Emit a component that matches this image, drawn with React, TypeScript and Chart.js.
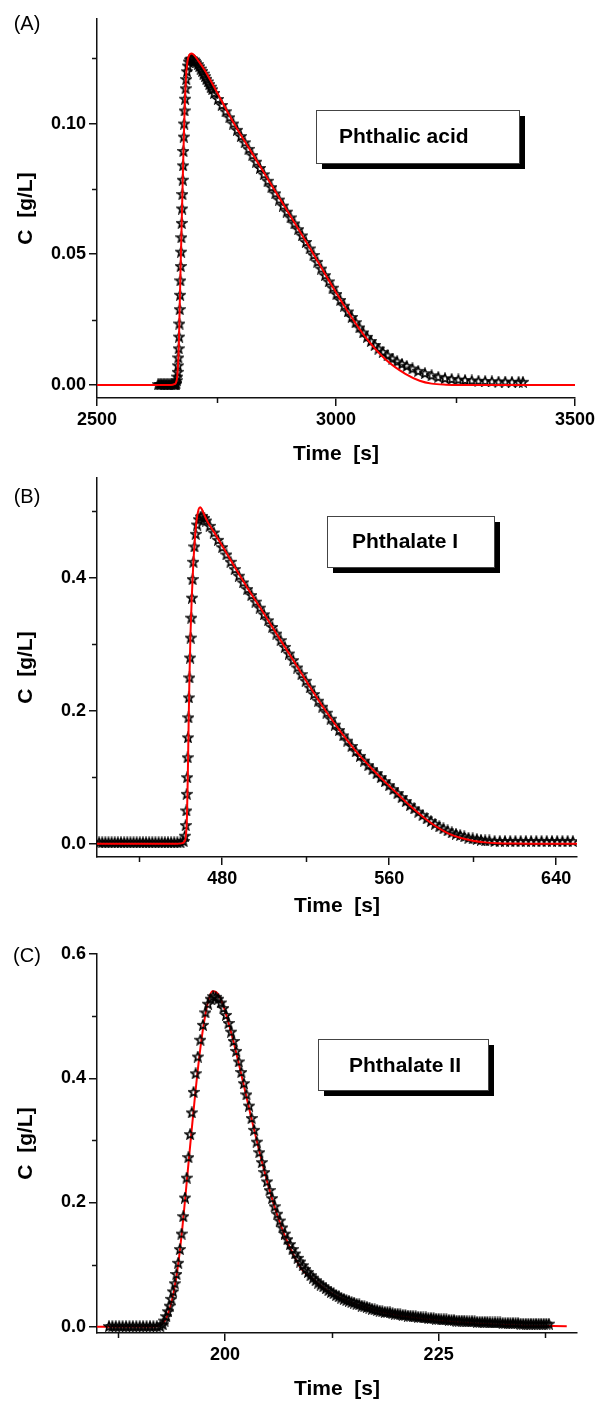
import React, { useEffect, useRef } from "react";
import { Chart, registerables } from "chart.js";

Chart.register(...registerables);

const FONT = "'Liberation Sans', Arial, Helvetica, sans-serif";

// ---------- Panel A : Phthalic acid ----------
const timeA = [2628, 2631, 2634, 2637, 2640, 2643, 2646, 2649, 2652, 2655, 2658, 2661, 2663, 2665,
  2666, 2667, 2668, 2668.8, 2669.5, 2670.2, 2671, 2671.7, 2672.4, 2673.1, 2673.8, 2674.5, 2675.2, 2675.9, 2676.6, 2677.3,
  2678, 2678.7, 2679.4, 2680.1, 2680.8, 2681.6, 2682.4, 2683.3, 2684.3, 2685.4, 2686.7, 2688.2, 2690, 2692, 2694, 2696.5,
  2699, 2702, 2705, 2708, 2711, 2714, 2717, 2720, 2723, 2726, 2729, 2732, 2735, 2738, 2741,
  2745, 2753, 2761, 2769, 2777, 2785, 2793, 2801, 2809, 2817, 2825, 2833, 2841, 2849, 2857, 2865, 2873, 2881, 2889, 2897,
  2905, 2913, 2921, 2929, 2937, 2945, 2953, 2961, 2969, 2977, 2985, 2993, 3001, 3009, 3017, 3025, 3033, 3041, 3049, 3057,
  3065, 3073, 3081, 3089, 3098, 3108, 3118, 3128, 3138, 3148, 3160, 3172, 3186, 3200, 3214, 3228, 3242, 3256, 3270, 3284,
  3298, 3312, 3326, 3340, 3354, 3368, 3382, 3391];
const concA = [0.0003, 0.0003, 0.0003, 0.0003, 0.0003, 0.0003, 0.0003, 0.0003, 0.0003, 0.0003, 0.0003, 0.0003, 0.0003, 0.0003,
  0.0008, 0.0018, 0.0032, 0.005, 0.0075, 0.0105, 0.014, 0.0185, 0.0235, 0.029, 0.0345, 0.04, 0.0455, 0.051, 0.0565, 0.062,
  0.0675, 0.073, 0.0785, 0.084, 0.0895, 0.095, 0.1, 0.105, 0.1095, 0.1135, 0.117, 0.12, 0.1222, 0.1237, 0.1245, 0.1248,
  0.1248, 0.1245, 0.124, 0.1234, 0.1227, 0.1219, 0.121, 0.1201, 0.1191, 0.1181, 0.1171, 0.1161, 0.1151, 0.1141, 0.1131,
  0.1117, 0.1094, 0.1071, 0.1047, 0.1024, 0.1, 0.0976, 0.0952, 0.0928, 0.0903, 0.0879, 0.0854, 0.083, 0.0806, 0.0781, 0.0757, 0.0733, 0.0709, 0.0686, 0.0663,
  0.0641, 0.0618, 0.0596, 0.0572, 0.0547, 0.0522, 0.0497, 0.0471, 0.0445, 0.042, 0.0396, 0.0372, 0.0348, 0.0325, 0.0303, 0.0281, 0.026, 0.024, 0.022, 0.0201,
  0.0184, 0.0168, 0.0153, 0.0139, 0.0126, 0.0113, 0.0101, 0.009, 0.0081, 0.0073, 0.0063, 0.0054, 0.0045, 0.0037, 0.0031, 0.0026, 0.0023, 0.0021, 0.0019, 0.0017,
  0.0016, 0.0015, 0.0014, 0.0013, 0.0013, 0.0012, 0.0012, 0.0012];
const fitTimeA = [2500, 2600, 2655, 2662, 2665, 2668, 2671, 2674, 2677, 2680, 2683, 2686, 2689, 2693, 2698, 2703, 2712, 2725,
  2745, 2785, 2825, 2865, 2905, 2945, 2985, 3025, 3065, 3105, 3145, 3175, 3200, 3230, 3260, 3350, 3500];
const fitA = [0, 0, 0, 0.0003, 0.0008, 0.0035, 0.014, 0.038, 0.0605, 0.083, 0.1035, 0.117, 0.1235, 0.1262, 0.1268, 0.1262, 0.124, 0.1205,
  0.114, 0.1005, 0.0885, 0.0765, 0.0645, 0.0525, 0.04, 0.028, 0.0175, 0.0095, 0.0042, 0.0016, 0.0005, 0.0001, 0, 0, 0];
const xTicksA = [2500, 3000, 3500];
const xLabelsA = ["2500", "3000", "3500"];
const xMinorA = [2750, 3250];
const yTicksA = [0, 0.05, 0.1];
const yLabelsA = ["0.00", "0.05", "0.10"];
const yMinorA = [0.025, 0.075, 0.125];

// ---------- Panel B : Phthalate I ----------
const timeB = [421, 422.5, 424, 425.5, 427, 428.5, 430, 431.5, 433, 434.5, 436, 437.5, 439, 440.5, 442, 443.5, 445, 446.5, 448, 449.5,
  451, 452.5, 454, 455.5, 457, 458.5, 460,
  461.5, 462.1, 462.5, 462.8, 463.0, 463.2, 463.4, 463.6, 463.8, 464.0, 464.3, 464.6, 464.9, 465.2, 465.5, 465.8, 466.2, 466.7,
  467.3, 468.0, 468.8, 469.6, 470.5, 471.4, 472.3,
  474, 476, 478, 480, 482, 484, 486, 488, 490, 492, 494, 496, 498, 500, 502, 504, 506, 508, 510, 512, 514, 516, 518, 520, 522,
  524, 526, 528, 530, 532, 534, 536, 538, 540, 542, 544, 546, 548, 550, 552, 554, 556, 558, 560, 562, 564, 566, 568, 570, 572,
  574, 576, 578, 580, 582, 584, 586, 588, 590, 592, 594, 596, 598, 600, 602, 604, 606, 608,
  610.5, 613, 615.5, 618, 620.5, 623, 625.5, 628, 630.5, 633, 635.5, 638, 640.5, 643, 645.5, 648];
const concB = [0.002, 0.002, 0.002, 0.002, 0.002, 0.002, 0.002, 0.002, 0.002, 0.002, 0.002, 0.002, 0.002, 0.002, 0.002, 0.002, 0.002, 0.002, 0.002, 0.002,
  0.002, 0.002, 0.002, 0.002, 0.002, 0.002, 0.002,
  0.004, 0.012, 0.028, 0.05, 0.075, 0.1, 0.13, 0.16, 0.19, 0.22, 0.25, 0.28, 0.31, 0.34, 0.37, 0.398, 0.424, 0.447,
  0.466, 0.48, 0.488, 0.492, 0.493, 0.49, 0.486,
  0.478, 0.468, 0.457, 0.446, 0.435, 0.424, 0.413, 0.403, 0.393, 0.383, 0.374, 0.364, 0.355, 0.345, 0.336, 0.326, 0.316, 0.306, 0.296, 0.286, 0.276, 0.265, 0.255, 0.245, 0.235,
  0.225, 0.215, 0.206, 0.197, 0.188, 0.179, 0.171, 0.163, 0.155, 0.147, 0.139, 0.132, 0.125, 0.118, 0.112, 0.106, 0.1, 0.094, 0.088, 0.082, 0.076, 0.07, 0.064, 0.058, 0.053,
  0.048, 0.043, 0.038, 0.034, 0.03, 0.026, 0.023, 0.02, 0.017, 0.015, 0.013, 0.011, 0.009, 0.008, 0.007, 0.006, 0.005, 0.005,
  0.004, 0.004, 0.004, 0.004, 0.004, 0.004, 0.004, 0.004, 0.004, 0.004, 0.004, 0.004, 0.004, 0.004, 0.004, 0.004];
const fitTimeB = [420, 458, 460.5, 461.8, 462.6, 463.1, 463.5, 463.9, 464.3, 464.8, 465.4, 466.1, 466.9, 467.8, 468.7, 469.5, 470.4, 471.5,
  473, 476, 480, 486, 492, 498, 504, 510, 516, 522, 528, 534, 540, 546, 552, 558, 564, 570, 576, 582, 588, 594, 600, 606, 612, 620, 630, 650];
const fitB = [0, 0, 0.0005, 0.003, 0.012, 0.04, 0.1, 0.18, 0.25, 0.315, 0.37, 0.418, 0.458, 0.488, 0.503, 0.506, 0.502, 0.494,
  0.484, 0.469, 0.448, 0.416, 0.385, 0.356, 0.326, 0.296, 0.266, 0.236, 0.207, 0.18, 0.155, 0.132, 0.112, 0.093, 0.075, 0.057, 0.041, 0.027, 0.016, 0.009,
  0.0045, 0.002, 0.0008, 0.0002, 0, 0];
const xTicksB = [480, 560, 640];
const xLabelsB = ["480", "560", "640"];
const xMinorB = [440, 520, 600];
const yTicksB = [0, 0.2, 0.4];
const yLabelsB = ["0.0", "0.2", "0.4"];
const yMinorB = [0.1, 0.3, 0.5];

// ---------- Panel C : Phthalate II ----------
const timeC = [186.4, 186.8, 187.2, 187.6, 188.0, 188.4, 188.8, 189.2, 189.6, 190.0, 190.4, 190.8, 191.2, 191.6, 192.0, 192.4,
  192.7, 192.9, 193.1, 193.3, 193.5, 193.7, 193.9, 194.1, 194.3, 194.5, 194.7, 194.9, 195.1, 195.3, 195.5, 195.7, 195.9, 196.1,
  196.3, 196.55, 196.8, 197.1, 197.4, 197.7, 198.0, 198.3, 198.6,
  198.9, 199.2, 199.5, 199.8, 200.1, 200.4, 200.7, 201.0, 201.3, 201.6, 201.9, 202.2, 202.5, 202.8,
  203.1, 203.4, 203.7, 204.0, 204.3, 204.6, 204.9, 205.2, 205.5, 205.8, 206.1, 206.4, 206.7, 207.0, 207.3, 207.6, 207.9, 208.2,
  208.5, 208.8, 209.1, 209.4, 209.7, 210.0, 210.3, 210.6, 210.9, 211.2, 211.5, 211.8, 212.1, 212.4, 212.7, 213.0, 213.3, 213.6,
  213.9, 214.2, 214.5, 214.8, 215.1, 215.4, 215.7, 216.0, 216.3, 216.6, 216.9, 217.2, 217.5, 217.8, 218.1, 218.4, 218.7, 219.0,
  219.3, 219.6, 219.9, 220.2, 220.5, 220.8, 221.1, 221.4, 221.7, 222.0, 222.3, 222.6, 222.9, 223.2, 223.5, 223.8, 224.1, 224.4,
  224.7, 225.0, 225.3, 225.6, 225.9, 226.2, 226.5, 226.8, 227.1, 227.4, 227.7, 228.0, 228.3, 228.6, 228.9, 229.2, 229.5, 229.8,
  230.1, 230.4, 230.7, 231.0, 231.3, 231.6, 231.9, 232.2, 232.5, 232.8, 233.1, 233.4, 233.7, 234.0, 234.3, 234.6, 234.9, 235.2,
  235.5, 235.8, 236.1, 236.4, 236.7, 237.0, 237.3, 237.6, 237.9];
const concC = [0.001, 0.001, 0.001, 0.001, 0.001, 0.001, 0.001, 0.001, 0.001, 0.001, 0.001, 0.001, 0.001, 0.001, 0.001, 0.001,
  0.004, 0.01, 0.017, 0.025, 0.034, 0.045, 0.057, 0.07, 0.085, 0.103, 0.125, 0.15, 0.178, 0.208, 0.24, 0.273, 0.31, 0.345,
  0.378, 0.408, 0.435, 0.462, 0.486, 0.506, 0.52, 0.528, 0.532,
  0.531, 0.528, 0.522, 0.513, 0.502, 0.489, 0.475, 0.46, 0.444, 0.427, 0.41, 0.392, 0.374, 0.356,
  0.336, 0.317, 0.298, 0.281, 0.265, 0.249, 0.234, 0.22, 0.207, 0.194, 0.182, 0.171, 0.16, 0.15, 0.141, 0.133, 0.125, 0.118,
  0.111, 0.105, 0.099, 0.093, 0.088, 0.083, 0.079, 0.075, 0.071, 0.068, 0.065, 0.062, 0.059, 0.056, 0.054, 0.051, 0.049, 0.047,
  0.045, 0.043, 0.042, 0.04, 0.039, 0.037, 0.036, 0.034, 0.033, 0.032, 0.031, 0.029, 0.028, 0.027, 0.026, 0.025, 0.024, 0.024,
  0.023, 0.022, 0.021, 0.021, 0.02, 0.019, 0.019, 0.018, 0.018, 0.017, 0.017, 0.016, 0.016, 0.015, 0.015, 0.014, 0.014, 0.014,
  0.013, 0.013, 0.012, 0.012, 0.012, 0.011, 0.011, 0.011, 0.01, 0.01, 0.01, 0.01, 0.009, 0.009, 0.009, 0.009, 0.008, 0.008,
  0.008, 0.008, 0.008, 0.007, 0.007, 0.007, 0.007, 0.007, 0.006, 0.006, 0.006, 0.006, 0.006, 0.006, 0.006, 0.005, 0.005, 0.005,
  0.005, 0.005, 0.005, 0.005, 0.005, 0.005, 0.005, 0.005, 0.005];
const fitTimeC = [185, 190, 191.8, 192.5, 193.0, 193.5, 194.0, 194.5, 195.0, 195.5, 196.0, 196.5, 197.0, 197.5, 198.0, 198.5,
  199.0, 199.5, 200.0, 200.5, 201.0, 202.0, 203.0, 204.0, 205.0, 206.0, 207.0, 208.0, 209.0, 210.0, 212.0, 214.0, 216.0, 218.0,
  220.0, 223.0, 226.0, 230.0, 235.0, 240.0];
const fitC = [0, 0, 0.0005, 0.003, 0.011, 0.028, 0.057, 0.1, 0.16, 0.232, 0.305, 0.375, 0.437, 0.487, 0.523, 0.54,
  0.538, 0.527, 0.508, 0.484, 0.458, 0.4, 0.34, 0.283, 0.23, 0.184, 0.146, 0.116, 0.092, 0.08, 0.058, 0.043, 0.033, 0.025,
  0.019, 0.013, 0.009, 0.005, 0.002, 0.001];
const xTicksC = [200, 225];
const xLabelsC = ["200", "225"];
const xMinorC = [187.5, 212.5, 237.5];
const yTicksC = [0, 0.2, 0.4, 0.6];
const yLabelsC = ["0.0", "0.2", "0.4", "0.6"];
const yMinorC = [0.1, 0.3, 0.5];

const panelTags = ["(A)", "(B)", "(C)"];
const compoundNames = ["Phthalic acid", "Phthalate I", "Phthalate II"];
const xTitle = "Time  [s]";
const yTitle = "C  [g/L]";

type Spec = {
  tag: string; name: string;
  t: number[]; c: number[]; ft: number[]; fc: number[];
  xMin: number; xMax: number; yMin: number; yMax: number;
  xTicks: number[]; xLabels: string[]; xMinor: number[];
  yTicks: number[]; yLabels: string[]; yMinor: number[];
  top: number; height: number; padTop: number; padRight: number; xH: number; xTitlePad: number;
  tagY: number; box: [number, number, number, number]; textX: number; textY: number;
  fitOnTop: boolean;
};

const specs: Spec[] = [
  {
    tag: panelTags[0], name: compoundNames[0], t: timeA, c: concA, ft: fitTimeA, fc: fitA,
    xMin: 2500, xMax: 3500, yMin: -0.005, yMax: 0.14,
    xTicks: xTicksA, xLabels: xLabelsA, xMinor: xMinorA, yTicks: yTicksA, yLabels: yLabelsA, yMinor: yMinorA,
    top: 0, height: 470, padTop: 19, padRight: 25, xH: 72, xTitlePad: 3.4,
    tagY: 24, box: [316, 110, 203, 53], textX: 339, textY: 137, fitOnTop: true,
  },
  {
    tag: panelTags[1], name: compoundNames[1], t: timeB, c: concB, ft: fitTimeB, fc: fitB,
    xMin: 420, xMax: 650, yMin: -0.02, yMax: 0.55,
    xTicks: xTicksB, xLabels: xLabelsB, xMinor: xMinorB, yTicks: yTicksB, yLabels: yLabelsB, yMinor: yMinorB,
    top: 470, height: 465, padTop: 8, padRight: 23, xH: 78, xTitlePad: 16.4,
    tagY: 27, box: [327, 46, 167, 51], textX: 352, textY: 72, fitOnTop: true,
  },
  {
    tag: panelTags[2], name: compoundNames[2], t: timeC, c: concC, ft: fitTimeC, fc: fitC,
    xMin: 185, xMax: 241.2, yMin: -0.01, yMax: 0.6,
    xTicks: xTicksC, xLabels: xLabelsC, xMinor: xMinorC, yTicks: yTicksC, yLabels: yLabelsC, yMinor: yMinorC,
    top: 935, height: 467, padTop: 19, padRight: 23, xH: 69, xTitlePad: 0,
    tagY: 21, box: [318, 104, 170, 51], textX: 349, textY: 131, fitOnTop: false,
  },
];

function makeStar(): HTMLCanvasElement {
  const cv = document.createElement("canvas");
  cv.width = 12; cv.height = 12;
  const g = cv.getContext("2d")!;
  g.beginPath();
  for (let i = 0; i < 10; i++) {
    const r = i % 2 === 0 ? 4.9 : 2.1;
    const a = -Math.PI / 2 + (i * Math.PI) / 5;
    const x = 6 + r * Math.cos(a);
    const y = 6.5 + r * Math.sin(a);
    if (i === 0) g.moveTo(x, y); else g.lineTo(x, y);
  }
  g.closePath();
  g.strokeStyle = "#000";
  g.lineWidth = 1.6;
  g.lineJoin = "miter";
  g.stroke();
  return cv;
}

function Panel({ spec }: { spec: Spec }) {
  const ref = useRef<HTMLCanvasElement | null>(null);
  useEffect(() => {
    const canvas = ref.current!;
    const star = makeStar();
    const axisColor = "#111";
    const decor = {
      id: "decor",
      afterDraw(chart: any) {
        const ctx = chart.ctx as CanvasRenderingContext2D;
        const xs = chart.scales.x;
        const ys = chart.scales.y;
        ctx.save();
        ctx.strokeStyle = axisColor;
        ctx.lineWidth = 1.5;
        spec.xMinor.forEach((v) => {
          const px = Math.round(xs.getPixelForValue(v)) + 0.5;
          ctx.beginPath();
          ctx.moveTo(px, xs.top);
          ctx.lineTo(px, xs.top + 5);
          ctx.stroke();
        });
        spec.yMinor.forEach((v) => {
          const py = Math.round(ys.getPixelForValue(v)) + 0.5;
          ctx.beginPath();
          ctx.moveTo(ys.right, py);
          ctx.lineTo(ys.right - 5, py);
          ctx.stroke();
        });
        // panel tag
        ctx.fillStyle = "#000";
        ctx.font = `20px ${FONT}`;
        ctx.textAlign = "center";
        ctx.textBaseline = "middle";
        ctx.fillText(spec.tag, 27, spec.tagY);
        // legend box with shadow
        const [bx, by, bw, bh] = spec.box;
        ctx.fillStyle = "#000";
        ctx.fillRect(bx + 6, by + 6, bw, bh);
        ctx.fillStyle = "#fff";
        ctx.fillRect(bx, by, bw, bh);
        ctx.strokeStyle = "#444";
        ctx.lineWidth = 1;
        ctx.strokeRect(bx + 0.5, by + 0.5, bw, bh);
        ctx.fillStyle = "#000";
        ctx.font = `bold 21px ${FONT}`;
        ctx.textAlign = "left";
        ctx.textBaseline = "middle";
        ctx.fillText(spec.name, spec.textX, spec.textY);
        ctx.restore();
      },
    };

    const n = Math.min(spec.t.length, spec.c.length);
    const pts = [] as { x: number; y: number }[];
    for (let i = 0; i < n; i++) pts.push({ x: spec.t[i], y: spec.c[i] });
    const m = Math.min(spec.ft.length, spec.fc.length);
    const fpts = [] as { x: number; y: number }[];
    for (let i = 0; i < m; i++) fpts.push({ x: spec.ft[i], y: spec.fc[i] });

    const tickFont = { family: FONT, size: 18, weight: "bold" as const };
    const titleFont = { family: FONT, size: 21, weight: "bold" as const };

    const fitDs = {
      data: fpts,
      showLine: true,
      borderColor: "#ff0000",
      borderWidth: 2,
      pointRadius: 0,
      cubicInterpolationMode: "monotone",
      fill: false,
    } as any;
    const starDs = {
      data: pts,
      showLine: false,
      pointStyle: star,
      pointRadius: 5,
      pointHoverRadius: 5,
    } as any;
    // first dataset is painted last (on top)
    const datasets = spec.fitOnTop ? [fitDs, starDs] : [starDs, fitDs];

    const chart = new Chart(canvas, {
      type: "scatter",
      data: { datasets },
      options: {
        responsive: false,
        animation: false,
        devicePixelRatio: 1,
        events: [],
        layout: { padding: { top: spec.padTop, right: spec.padRight, left: 0, bottom: 0 } },
        plugins: { legend: { display: false }, tooltip: { enabled: false }, title: { display: false } },
        scales: {
          x: {
            type: "linear",
            min: spec.xMin,
            max: spec.xMax,
            afterBuildTicks: (s: any) => { s.ticks = spec.xTicks.map((v) => ({ value: v })); },
            afterFit: (s: any) => { s.height = spec.xH; s.paddingLeft = 0; s.paddingRight = 0; },
            border: { display: true, color: axisColor, width: 1.5 },
            grid: { drawOnChartArea: false, drawTicks: true, tickLength: 8, color: axisColor, lineWidth: 1.5 },
            ticks: {
              color: "#000", font: tickFont, padding: 3, autoSkip: false, maxRotation: 0,
              callback: (_v: any, i: number) => spec.xLabels[i],
            },
            title: { display: true, text: xTitle, color: "#000", font: titleFont, padding: { top: 0, bottom: spec.xTitlePad } },
          },
          y: {
            type: "linear",
            min: spec.yMin,
            max: spec.yMax,
            afterBuildTicks: (s: any) => { s.ticks = spec.yTicks.map((v) => ({ value: v })); },
            afterFit: (s: any) => { s.width = 97; s.paddingTop = 0; s.paddingBottom = 0; },
            border: { display: true, color: axisColor, width: 1.5 },
            grid: { drawOnChartArea: false, drawTicks: true, tickLength: 8, color: axisColor, lineWidth: 1.5 },
            ticks: {
              color: "#000", font: tickFont, padding: 3, autoSkip: false,
              callback: (_v: any, i: number) => spec.yLabels[i],
            },
            title: { display: true, text: yTitle, color: "#000", font: titleFont, padding: { top: 13.4, bottom: 0 } },
          },
        },
      } as any,
      plugins: [decor],
    });
    return () => chart.destroy();
  }, [spec]);
  return (
    <canvas
      ref={ref}
      width={600}
      height={spec.height}
      style={{ position: "absolute", left: 0, top: spec.top, width: 600, height: spec.height, display: "block" }}
    />
  );
}

export default function App() {
  return (
    <div style={{ position: "absolute", left: 0, top: 0, width: 600, height: 1402, background: "#fff", overflow: "hidden" }}>
      {specs.map((s) => (
        <Panel key={s.tag} spec={s} />
      ))}
    </div>
  );
}
